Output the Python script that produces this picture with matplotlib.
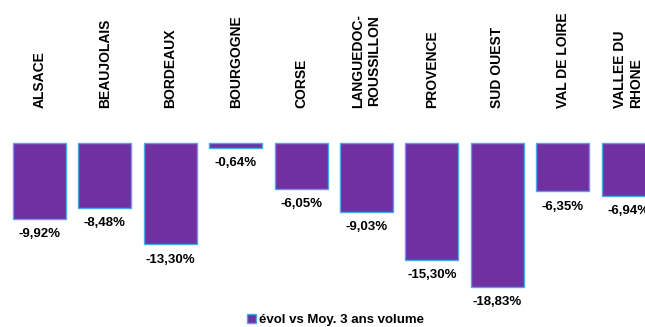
import numpy as np
import matplotlib
matplotlib.use('Agg')
import matplotlib.pyplot as plt

regions = ['ALSACE', 'BEAUJOLAIS', 'BORDEAUX', 'BOURGOGNE', 'CORSE',
           'LANGUEDOC-\nROUSSILLON', 'PROVENCE', 'SUD OUEST', 'VAL DE LOIRE',
           'VALLEE DU\nRHONE']
evol = [-9.92, -8.48, -13.30, -0.64, -6.05, -9.03, -15.30, -18.83, -6.35, -6.94]
series_name = 'évol vs Moy. 3 ans volume'

plt.rcParams['font.family'] = ['Liberation Sans', 'DejaVu Sans']

fig = plt.figure(figsize=(6.45, 3.27), dpi=100)
ax = fig.add_axes([0, 0, 1, 1])

x = np.arange(len(regions))
bars = ax.bar(x, evol, width=0.81, color='#7030A0', edgecolor='#4DA6EC',
              linewidth=1.0, label=series_name)

# value labels below each bar
for xi, v in zip(x, evol):
    txt = ('%.2f' % v).replace('.', ',') + '%'
    ax.annotate(txt, (xi, v), xytext=(0, -11), textcoords='offset points',
                ha='center', va='center', fontsize=9.5, fontweight='bold')

# category labels above the bars
px = 7.63  # pixels per percent
for xi, name in zip(x, regions):
    ma = 'center' if name.startswith('LANGUEDOC') else 'left'
    ax.text(xi, 35 / px, name, rotation=90, ha='center', va='bottom',
            multialignment=ma, fontsize=10, fontweight='bold')

ax.set_xlim(-39.5 / 65.4, (645 - 39.5) / 65.4)
ax.set_ylim(-(327 - 143) / px, 143 / px)
ax.axis('off')

fig.legend(handles=[bars], labels=[series_name], loc='center',
           bbox_to_anchor=(0.52, 0.02), frameon=False, handlelength=0.65,
           handleheight=0.65, handletextpad=0.25,
           prop={'weight': 'bold', 'size': 9.5})

fig.savefig('out.png', dpi=100)
